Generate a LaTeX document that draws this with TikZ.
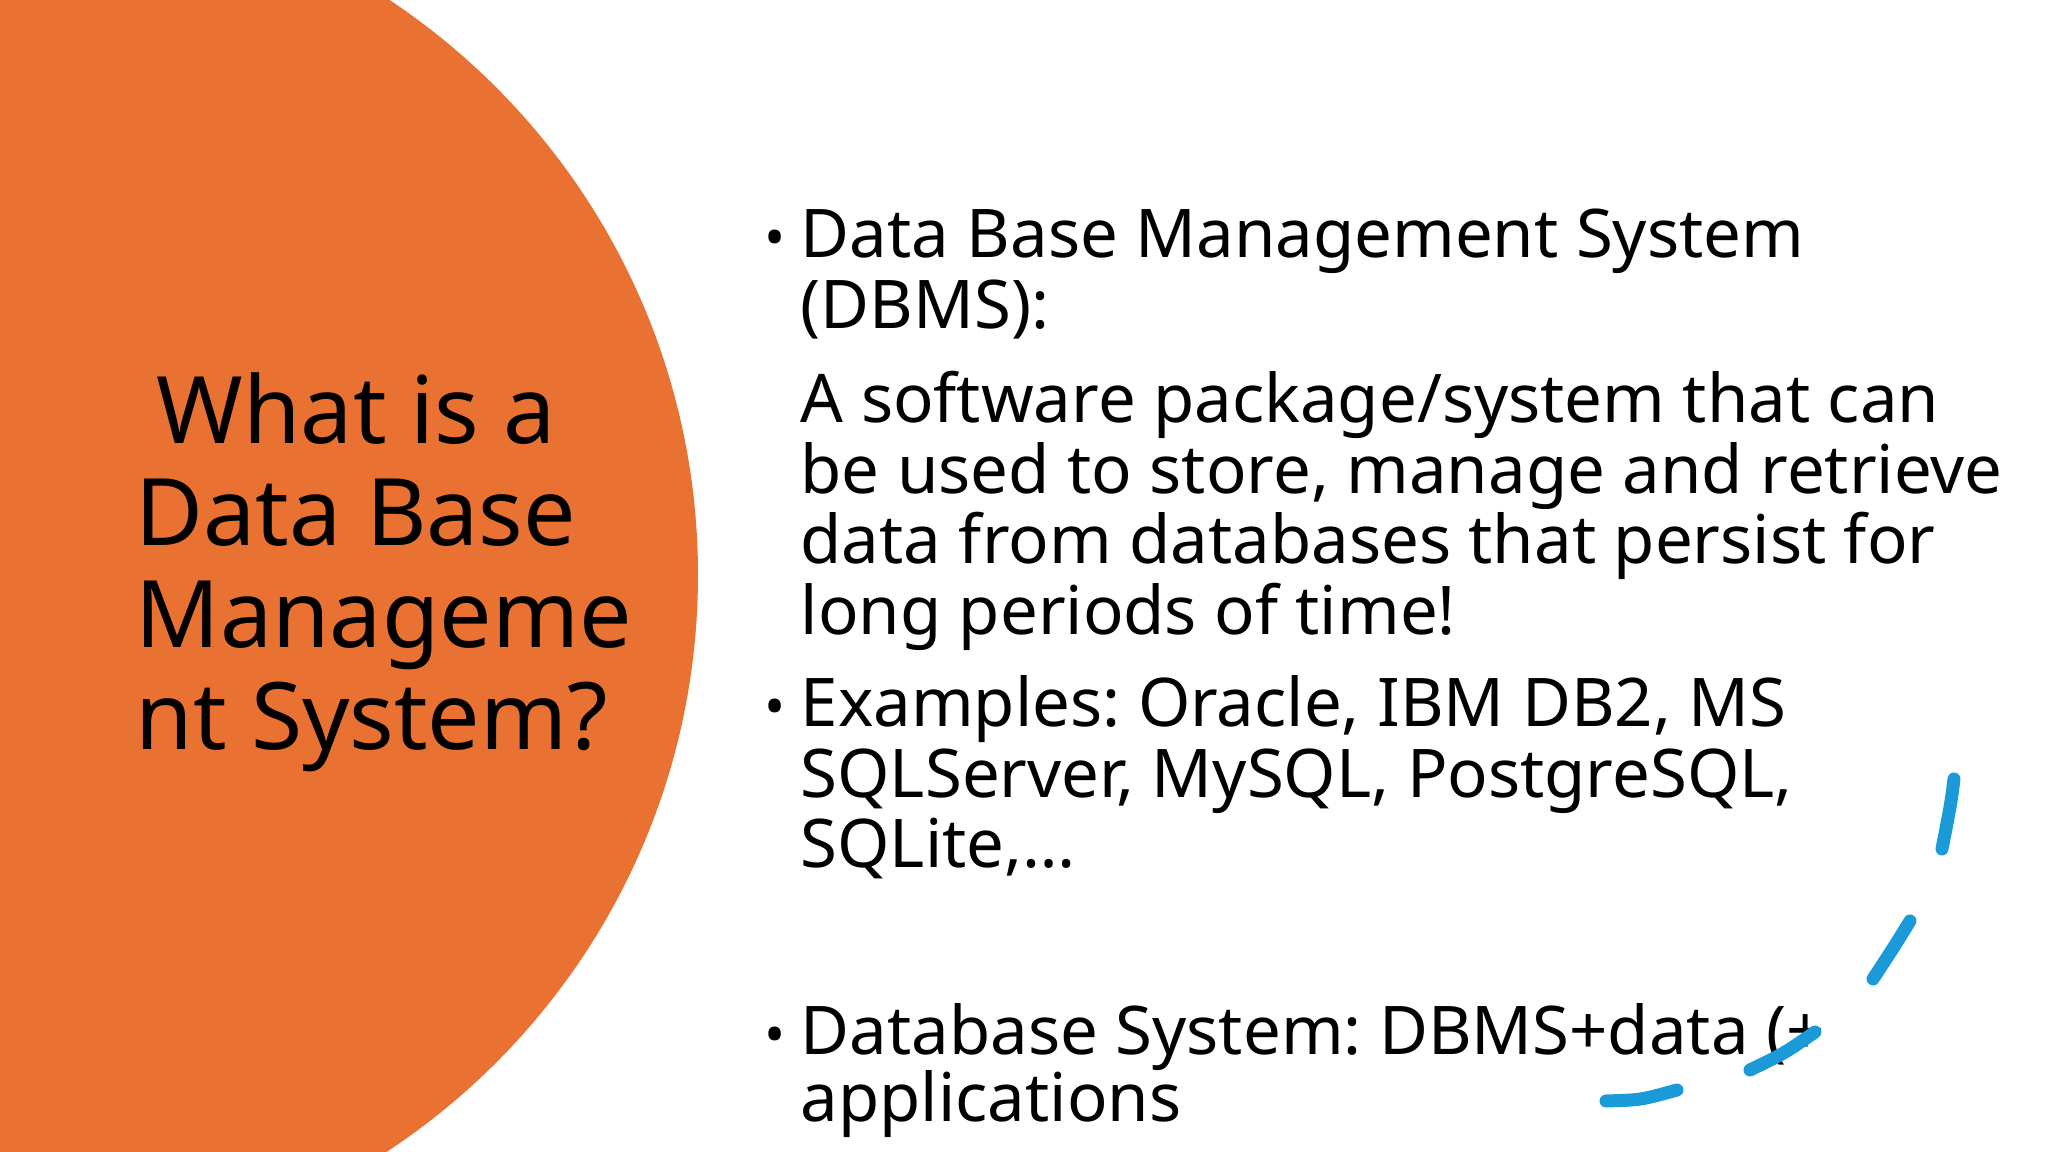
\documentclass[tikz,border=0pt]{standalone}
\usepackage{fontspec}
\setmainfont{Noto Sans}
\definecolor{orng}{HTML}{E97132}
\definecolor{pen}{HTML}{1A9BD7}
\frenchspacing
\begin{document}
\begin{tikzpicture}
\useasboundingbox (0,0) rectangle (20.48,11.52);
\begin{scope}
\clip (0,0) rectangle (20.48,11.52);
\fill[orng] (0.08,5.77) circle (6.90);
\end{scope}
\tikzset{title/.style={anchor=base west,inner sep=0pt,font=\fontsize{26.5}{29}\selectfont},
 body/.style={anchor=base west,inner sep=0pt,font=\fontsize{19.1}{21}\selectfont},
 bul/.style={anchor=base west,inner sep=0pt,font=\fontsize{16}{20}\selectfont},
 penline/.style={pen,line width=0.13cm,line cap=round}}
\node[title] (t1) at (1.56,7.08) {What is a};
\node[title] (t2) at (1.35,6.06) {Data Base};
\node[title] (t3) at (1.35,5.04) {Manageme};
\node[title] (t4) at (1.35,4.02) {nt System?};
\node[bul] (b1) at (7.64,8.94) {•};
\node[bul] (b2) at (7.64,4.25) {•};
\node[bul] (b3) at (7.64,0.97) {•};
\node[body] (l1) at (8.00,8.94) {Data Base Management System};
\node[body] (l2) at (8.00,8.23) {(DBMS):};
\node[body] (l3) at (8.00,7.29) {A software package/system that can};
\node[body] (l4) at (8.00,6.58) {be used to store, manage and retrieve};
\node[body] (l5) at (8.00,5.88) {data from databases that persist for};
\node[body] (l6) at (8.00,5.17) {long periods of time!};
\node[body] (l7) at (8.00,4.25) {Examples: Oracle, IBM DB2, MS};
\node[body] (l8) at (8.00,3.54) {SQLServer, MySQL, PostgreSQL,};
\node[body] (l9) at (8.00,2.84) {SQLite,…};
\node[body] (l10) at (8.00,0.97) {Database System: DBMS+data (+};
\node[body] (l11) at (8.00,0.30) {applications};
\draw[penline] (19.54,3.73) .. controls (19.51,3.49) .. (19.42,3.03);
\draw[penline] (19.10,2.31) .. controls (18.94,2.05) .. (18.73,1.73);
\draw[penline] (18.15,1.20) .. controls (17.85,0.99) .. (17.50,0.82);
\draw[penline] (16.77,0.62) .. controls (16.41,0.52) .. (16.06,0.51);
\end{tikzpicture}
\end{document}
